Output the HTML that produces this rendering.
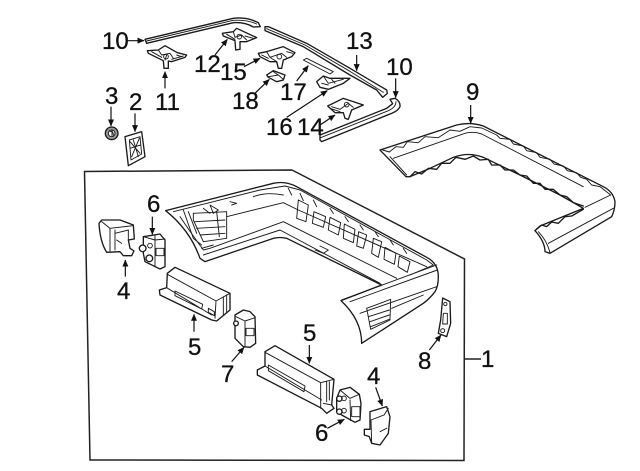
<!DOCTYPE html>
<html><head><meta charset="utf-8">
<style>
html,body{margin:0;padding:0;background:#fff;width:640px;height:471px;overflow:hidden}
svg{display:block}
text{font-family:"Liberation Sans",sans-serif;font-size:24px;fill:#111;stroke:#111;stroke-width:.3}
.p path,.p polygon,.p polyline,.p circle,.p ellipse{stroke:#1a1a1a;stroke-width:4;stroke-linejoin:round;stroke-linecap:round}
.f{fill:#fff}.n{fill:none}
.t{stroke-width:2.8!important}
.a line{stroke:#111;stroke-width:3.6;marker-end:url(#m)}
</style></head><body>
<svg width="640" height="471" viewBox="0 0 640 471" xmlns="http://www.w3.org/2000/svg">
<defs><marker id="m" markerWidth="6" markerHeight="5" refX="5.4" refY="2.5" orient="auto" markerUnits="strokeWidth"><path d="M0 0L5.8 2.5L0 5z" fill="#111"/></marker></defs>
<rect width="640" height="471" fill="#fff"/>
<polyline points="292,170 84.500,171.500 90,460 464,460.500 464.500,259 292,170" fill="none" stroke="#222" stroke-width="1.5"/>
<line x1="464" y1="359" x2="481" y2="359" stroke="#222" stroke-width="1.5"/>

<!-- top cluster -->
<g class="p" transform="translate(90,0) scale(.33333)">
<path class="f" d="M165 118L430 55Q470 50 505 68L511 80L490 81Q465 66 430 68L170 130Z"/>
<path class="n t" d="M170 123L430 61Q470 58 500 72"/>
<path class="f" d="M525 80L535 80L650 130L780 205L890 270L892 280L878 292L860 270L780 225L640 140L525 92Z"/>
<path class="n t" d="M530 86L645 135L780 214L880 277"/>
<path class="f" d="M900 298L915 295Q932 305 930 320Q925 332 905 340L695 425L690 420L690 405L890 325L908 311Z"/>
<path class="n t" d="M692 413L895 332Q918 322 918 305"/>
<path class="f" d="M172 152L205 150L225 137L262 158L290 165L285 172L245 185L235 183L235 205L222 205L220 182L175 160Z"/>
<path class="n t" d="M205 150L215 165L240 160L250 175M230 165L225 180M260 165L275 170M185 155L215 172M245 178L280 168"/>
<circle class="n t" cx="228" cy="170" r="7"/>
<path class="f" d="M397 100L430 95L440 85L500 113L470 125L450 125L450 148L437 150L435 122L400 108Z"/>
<path class="n t" d="M430 95L435 112L455 105L470 120M465 108L490 115M410 103L435 118"/>
<circle class="n t" cx="448" cy="110" r="7"/>
<path class="f" d="M505 160L530 155L580 140L615 158L605 170L580 180L575 205L565 205L560 185L540 185L510 170Z"/>
<path class="n t" d="M530 155L540 172L575 160L590 172M540 172L560 185M590 155L608 160M515 165L535 175"/>
<circle class="n t" cx="568" cy="170" r="7"/>
<path class="f" d="M530 225L550 212L585 225L580 240L560 245L535 232Z"/>
<path class="n t" d="M535 230L565 225L580 238M550 215L565 225"/>
<path class="f t" d="M640 180L650 175L730 215L720 222Z"/>
<path class="f" d="M680 245L700 228L720 235L780 235L760 250L715 268L690 262Z"/>
<path class="n t" d="M700 228L715 250L760 238M695 250L715 255M725 238L735 250"/>
<path class="f" d="M713 318L760 295L820 315L785 330L775 358L765 355L760 338L735 338Z"/>
<path class="n t" d="M725 320L750 328L775 310L790 322M720 325L750 335"/>
<circle cx="770" cy="314" r="7" class="n t"/>
<circle cx="65" cy="400" r="19" fill="#999"/>
<circle cx="65" cy="400" r="10" class="f t"/>
<path class="n t" d="M60 395Q70 392 70 405M66 392V408"/>
<path class="f" d="M105 410L155 395L165 470L115 497Z"/>
<path class="n t" d="M118 420L150 410L155 462L123 480ZM120 425L150 460M148 415L125 470M130 420L145 470M120 445L152 435"/>
<g class="a">
<line x1="112" y1="122" x2="162" y2="122"/><line x1="375" y1="165" x2="412" y2="118"/>
<line x1="225" y1="265" x2="225" y2="215"/><line x1="462" y1="200" x2="510" y2="175"/>
<line x1="495" y1="280" x2="538" y2="238"/><line x1="620" y1="243" x2="655" y2="197"/>
<line x1="590" y1="352" x2="712" y2="272"/><line x1="690" y1="375" x2="735" y2="345"/>
<line x1="800" y1="165" x2="800" y2="212"/><line x1="917" y1="235" x2="917" y2="293"/>
<line x1="63" y1="320" x2="63" y2="378"/><line x1="135" y1="340" x2="135" y2="395"/>
</g>
</g>

<!-- part 9 -->
<g class="p" transform="translate(370,70) scale(.33333)">
<path class="f" d="M30 240L260 165Q300 155 340 168L700 350Q730 365 735 395Q735 420 725 440L540 550L525 545Q525 515 495 482L510 468L640 415L570 375L450 315L340 262Q295 245 250 262L180 295L120 320L108 320Z"/>
<path class="n t" d="M38 240L58 246L78 230L100 232L112 215L145 218L165 200L205 203L240 180L270 184L300 170L335 174L380 195L390 205L420 208L430 222L460 228L470 242L500 248L510 262L540 268L552 282L580 288L592 302L620 308L632 322L650 328L665 345L690 350L722 375"/>
<path class="n t" d="M70 265L285 190Q310 183 335 192L640 350"/>
<path class="n t" d="M60 260L110 315"/>
<path class="n" d="M120 320L135 305L155 312L175 295L200 298L215 280L240 280L258 262L285 268L310 258L330 270L355 268L365 285L390 285L405 300L430 300L450 315L470 318L490 340L510 340L525 358L550 358L570 375L590 380L610 398L640 408"/>
<path class="n t" d="M722 375L645 412"/>
<path class="n" d="M495 482L515 465L530 470L545 456L565 460L585 440L605 438L640 418"/>
<path class="n t" d="M730 415L535 520M505 485Q530 510 540 548"/>
<g class="a"><line x1="302" y1="105" x2="302" y2="160"/></g>
</g>

<!-- main bumper -->
<g class="p" transform="translate(160,170) scale(.33333)">
<path class="f" d="M17 122L340 40Q375 32 410 50L800 262Q835 280 835 320Q835 350 825 365Q810 385 790 400L605 520Q605 450 543 392L665 345L380 205Q360 200 340 205L135 275L120 265Q90 180 17 122Z"/>
<path class="n t" d="M40 125L300 60L375 48L420 60L800 270L820 285L750 315"/>
<path class="n t" d="M60 140Q90 185 130 240L150 235L370 155L710 325M130 255L360 180L660 340"/>
<path class="n t" d="M200 140L370 98L415 120L800 290M385 55L395 75M420 70L430 92M460 90L470 110M510 115L520 130M555 140L565 155M600 165L610 180M645 185L655 200M690 210L700 225M730 235L740 250"/>
<path class="n t" d="M465 240L490 250L505 240L480 228"/>
<path class="n t" d="M415 90L445 105L438 155L410 145ZM462 125L497 140L490 172L457 160ZM510 142L542 158L535 195L505 180ZM553 162L585 178L580 218L550 205ZM596 185L620 195L610 235L590 228ZM640 205L665 215L655 262L635 250ZM675 232L708 250L703 283L672 268ZM718 258L750 275L742 307L714 290Z"/>
<path class="n t" d="M100 130L200 125L200 205L130 215L100 150ZM105 155L195 150M110 175L195 170M120 195L195 190M150 105L175 120L160 130ZM210 95L230 100L215 105M280 80Q320 65 370 75M70 120L100 205L125 225M125 235L160 225M85 125L110 190M130 115L150 130M170 125L178 200"/>
<path class="n t" d="M545 390L830 285M570 395L832 300M600 430L830 350M620 415L692 388L690 450L632 478ZM625 440L688 420M630 455L688 435M632 470L688 448M695 415L790 375"/>
</g>

<!-- left parts -->
<g class="p" transform="translate(80,165) scale(.33333)">
<path class="f" d="M57 175L65 165L120 165L160 180L163 222L145 225L150 250L162 258L155 272L130 272L120 260L80 262Q60 230 57 175Z"/>
<path class="n t" d="M90 190L90 258M105 195L105 255M105 205L145 195L145 225M110 225L125 235M65 170L90 190L160 182"/>
<path class="f" d="M190 215L240 207L255 225L255 305L240 312L195 290L190 265Z"/>
<path class="n t" d="M225 212L225 305M228 250H252V272H228ZM190 215L225 225L255 222"/>
<circle class="f" cx="188" cy="250" r="10"/><circle class="f" cx="208" cy="280" r="10"/>
<circle class="n t" cx="210" cy="242" r="7"/>
<path class="f" d="M238 375L260 368L262 325L285 307L450 385L450 435L410 468L395 465L240 390Z"/>
<path class="n t" d="M262 328L408 408L405 460M260 368L395 450M285 378L368 418L365 432L285 392ZM385 430L403 440V452L385 442ZM430 395V450M440 390V442M408 408L450 385"/>
<path class="f" d="M465 450L490 435L510 440L525 455L527 535L510 547L490 545L465 520Z"/>
<path class="n t" d="M468 455L495 468L525 458M495 468V545M498 490H522V512H498Z"/>
<circle class="f" cx="468" cy="475" r="7"/>
<g class="a">
<line x1="217" y1="155" x2="217" y2="208"/><line x1="136" y1="335" x2="136" y2="285"/>
<line x1="342" y1="500" x2="342" y2="448"/><line x1="455" y1="590" x2="492" y2="547"/>
</g>
</g>

<!-- right lower parts -->
<g class="p" transform="translate(230,300) scale(.33333)">
<path class="f" d="M82 210L105 198L105 155L135 137L312 238L305 315L312 325L290 340L275 325L82 225Z"/>
<path class="n t" d="M107 158L272 248L272 325M105 198L275 300M115 195L225 258L222 275L115 212ZM290 245V305M298 245V300M272 248L312 238M280 310L305 315"/>
<path class="f" d="M330 270L360 262L388 283L393 310L390 360L375 367L335 345L320 335L320 295Z"/>
<path class="n t" d="M360 300L362 362M365 320H390V350H365ZM330 270L360 295L388 283"/>
<circle class="f" cx="328" cy="296" r="8"/><circle class="f" cx="328" cy="335" r="8"/>
<circle class="n t" cx="342" cy="295" r="7"/><circle class="n t" cx="342" cy="332" r="7"/>
<path class="f" d="M420 335L470 320L480 350L475 400L450 435L425 430L418 410L403 405L403 388L420 388Z"/>
<path class="n t" d="M423 360L462 345L475 325M423 360L425 430M450 395L470 385"/>
<path class="f" d="M638 -6L660 5L662 70L650 110L625 100L632 60Z"/>
<path class="n t" d="M640 40H652V72H638Z"/>
<circle class="n t" cx="646" cy="12" r="5"/><circle class="n t" cx="638" cy="92" r="6"/>
<g class="a">
<line x1="238" y1="135" x2="238" y2="190"/><line x1="292" y1="385" x2="343" y2="358"/>
<line x1="437" y1="262" x2="457" y2="318"/><line x1="598" y1="150" x2="633" y2="105"/>
</g>
</g>

<text x="102" y="49">10</text><text x="346" y="49">13</text><text x="386" y="75">10</text>
<text x="194" y="72">12</text><text x="220" y="80">15</text><text x="155" y="110">11</text>
<text x="105" y="104">3</text><text x="129" y="110">2</text><text x="232" y="109">18</text>
<text x="280" y="100">17</text><text x="266" y="135">16</text><text x="297" y="135">14</text>
<text x="466" y="100">9</text><text x="147" y="212">6</text><text x="117" y="299">4</text>
<text x="188" y="355">5</text><text x="221" y="382">7</text><text x="303" y="341">5</text>
<text x="367" y="384">4</text><text x="315" y="441">6</text><text x="418" y="369">8</text>
<text x="481" y="367">1</text>
</svg>
</body></html>
